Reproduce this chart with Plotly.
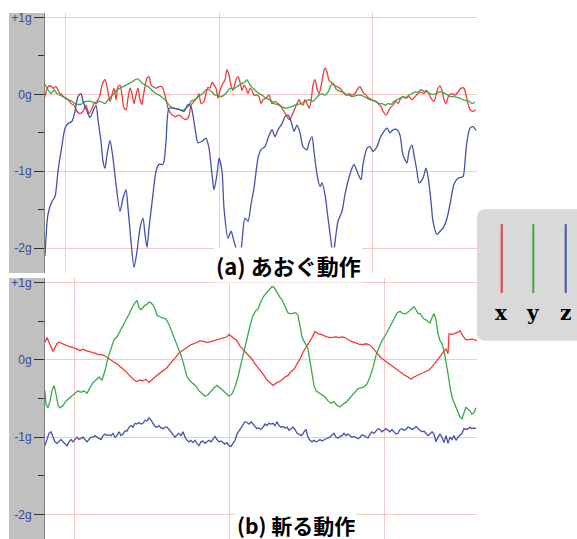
import plotly.graph_objects as go

W, H = 577, 539

# ---------------- data (time in samples, acceleration in g) ----------------
# (a) あおぐ動作
a_x_t = [45,48,51,53,56,59,62,65,68,71,
         74,77,80,83,86,89,92,94,97,100,
         102,105,107,110,112,114,116,118,120,122,
         124,126,128,130,132,134,136,138,140,142,
         143,145,147,149,151,153,156,159,162,165,
         168,171,175,179,183,186,189,191,194,197,
         199,201,204,206,208,210,212,214,216,218,
         220,222,225,227,229,231,233,236,238,240,
         242,244,246,248,250,252,254,257,259,261,
         263,266,269,272,275,278,280,283,286,288,
         290,292,295,297,299,301,303,305,307,309,
         311,313,315,317,319,321,323,325,327,329,
         331,334,337,340,343,346,349,352,355,358,
         360,362,364,366,369,372,375,378,381,383,
         386,388,390,393,396,398,400,403,406,409,
         412,415,418,421,424,426,429,431,434,436,
         438,440,442,444,446,449,452,455,458,461,
         464,466,468,470,473,476]
a_x_g = [-0.03,0.10,0.11,0.08,0.10,0.03,-0.01,-0.05,-0.07,-0.12,
         -0.14,-0.22,-0.25,-0.22,-0.14,-0.25,-0.18,-0.12,-0.09,-0.01,
         0.12,0.19,0.10,-0.09,-0.01,0.08,-0.07,0.10,0.12,-0.01,
         -0.18,-0.20,-0.05,0.08,0.01,-0.12,-0.01,0.08,-0.07,-0.13,
         -0.05,0.10,0.21,0.23,0.12,0.10,0.08,0.10,0.10,-0.01,
         -0.18,-0.25,-0.29,-0.27,-0.31,-0.33,-0.28,-0.14,-0.09,-0.05,
         0.01,-0.12,-0.09,0.01,0.09,0.08,0.16,0.12,0.08,-0.05,
         0.05,0.12,0.19,0.32,0.25,0.12,0.05,0.19,0.23,0.16,
         0.05,0.12,0.08,0.01,0.08,0.05,-0.01,-0.01,-0.03,-0.12,
         -0.07,-0.05,-0.01,-0.12,-0.09,-0.12,-0.14,-0.20,-0.27,-0.31,
         -0.33,-0.27,-0.18,-0.12,-0.07,-0.12,-0.14,-0.07,-0.12,-0.18,
         -0.09,0.12,0.19,0.08,0.01,0.10,0.25,0.34,0.29,0.18,
         0.16,0.12,0.10,0.08,0.03,-0.01,0.01,-0.01,0.01,0.08,
         0.10,0.05,0.01,-0.01,-0.05,-0.07,-0.09,-0.12,-0.16,-0.22,
         -0.27,-0.23,-0.18,-0.14,-0.09,-0.12,-0.07,-0.03,-0.05,-0.03,
         -0.07,-0.03,0.01,0.03,0.01,0.05,0.01,-0.05,-0.09,-0.01,
         0.08,0.11,0.05,-0.07,-0.12,-0.01,0.01,-0.01,0.03,0.08,
         0.08,-0.01,-0.12,-0.20,-0.22,-0.20]

a_y_t = [45,48,51,54,57,60,63,66,69,72,
         75,78,81,84,87,90,93,96,99,102,
         105,108,111,114,117,120,123,126,129,132,
         135,138,141,144,147,150,153,156,159,162,
         165,168,171,174,177,180,183,186,189,191,
         194,197,200,203,206,209,212,215,218,221,
         224,227,230,233,236,239,242,245,247,250,
         253,256,259,262,265,268,271,274,277,280,
         283,286,289,292,295,298,301,304,307,310,
         313,316,319,322,325,328,331,333,336,340,
         343,346,349,352,355,358,361,364,367,370,
         373,376,379,382,385,388,391,394,397,400,
         403,406,409,412,415,418,421,424,427,430,
         433,436,439,442,445,448,451,454,457,460,
         463,466,469,472,475]
a_y_g = [0.13,0.06,0.01,0.06,0.01,-0.01,-0.03,-0.05,-0.07,-0.09,
         -0.12,-0.13,-0.13,-0.10,-0.09,-0.09,-0.10,-0.12,-0.09,-0.10,
         -0.12,-0.07,-0.03,0.01,0.06,0.08,0.10,0.12,0.14,0.16,
         0.19,0.20,0.16,0.13,0.11,0.08,0.04,0.01,-0.01,-0.04,
         -0.07,-0.12,-0.16,-0.18,-0.19,-0.20,-0.21,-0.18,-0.14,-0.09,
         -0.07,-0.05,-0.01,0.01,0.06,0.06,0.03,-0.01,-0.01,-0.03,
         -0.01,0.03,0.08,0.07,0.09,0.12,0.14,0.16,0.19,0.12,
         0.08,0.04,0.01,-0.01,-0.04,-0.06,-0.08,-0.12,-0.13,-0.15,
         -0.17,-0.18,-0.17,-0.16,-0.14,-0.13,-0.12,-0.10,-0.08,-0.07,
         -0.09,-0.05,-0.01,0.01,-0.01,0.03,0.12,0.15,0.07,0.04,
         0.03,0.00,-0.01,-0.03,-0.02,-0.01,-0.01,-0.03,-0.05,-0.07,
         -0.08,-0.09,-0.12,-0.12,-0.14,-0.12,-0.13,-0.09,-0.07,-0.05,
         -0.03,-0.04,-0.01,0.01,0.03,0.03,0.06,0.04,0.03,0.01,
         0.00,0.01,0.03,0.03,0.01,-0.01,-0.03,-0.03,-0.04,-0.05,
         -0.07,-0.08,-0.09,-0.12,-0.10]

a_z_t = [45,48,52,55,58,62,65,68,72,75,
         78,81,83,87,90,93,96,98,101,103,
         105,107,110,113,116,120,123,126,128,131,
         134,137,140,143,145,147,149,153,156,159,
         163,166,169,173,177,180,184,188,191,195,
         198,202,206,209,212,214,217,219,222,224,
         228,231,234,238,240,242,245,248,251,254,
         258,261,265,268,272,275,278,282,285,288,
         291,294,297,300,303,307,309,312,314,317,
         320,322,325,328,331,333,336,338,342,345,
         348,352,354,357,361,363,367,370,373,377,
         380,383,387,390,393,397,400,403,407,409,
         412,414,417,419,423,426,428,431,433,437,
         440,443,447,450,454,458,463,465,467,470,
         473,476]
a_z_g = [-2.10,-1.56,-1.39,-1.33,-1.00,-0.66,-0.44,-0.38,-0.35,-0.22,
         -0.03,0.01,-0.09,-0.22,-0.30,-0.22,-0.14,-0.33,-0.61,-0.87,
         -0.96,-0.79,-0.60,-0.83,-1.17,-1.52,-1.35,-1.24,-1.48,-1.91,
         -2.25,-2.04,-1.74,-1.61,-1.82,-1.99,-1.74,-1.30,-1.00,-0.91,
         -0.91,-0.61,-0.18,-0.18,-0.19,-0.20,-0.22,-0.13,-0.16,-0.44,
         -0.63,-0.61,-0.57,-0.70,-1.04,-1.24,-1.04,-0.83,-1.00,-1.48,
         -1.87,-1.78,-1.91,-2.08,-2.12,-1.91,-1.61,-1.65,-1.43,-1.22,
         -0.83,-0.72,-0.68,-0.57,-0.46,-0.55,-0.46,-0.38,-0.29,-0.27,
         -0.35,-0.48,-0.40,-0.50,-0.68,-0.72,-0.63,-0.55,-0.74,-1.04,
         -1.20,-1.15,-1.30,-1.61,-1.91,-2.10,-1.82,-1.65,-1.52,-1.30,
         -1.13,-0.96,-0.91,-1.00,-1.11,-0.91,-0.70,-0.68,-0.74,-0.68,
         -0.57,-0.50,-0.44,-0.50,-0.46,-0.46,-0.53,-0.79,-0.89,-0.74,
         -0.66,-0.79,-1.00,-1.15,-1.09,-0.96,-1.07,-1.39,-1.65,-1.82,
         -1.78,-1.74,-1.61,-1.43,-1.17,-1.09,-1.07,-0.87,-0.61,-0.44,
         -0.42,-0.47]

# (b) 斬る動作
b_x_t = [45,47,49,51,53,55,57,59,62,65,
         68,71,74,77,80,83,86,89,92,95,
         98,101,104,107,110,113,116,119,122,125,
         128,131,134,137,140,143,146,149,152,155,
         158,161,164,167,170,173,176,179,182,185,
         188,191,194,197,200,203,206,209,212,215,
         218,221,224,227,229,231,234,237,240,243,
         246,249,252,255,258,261,264,267,270,273,
         276,279,282,285,288,291,294,297,300,303,
         306,309,312,315,318,321,324,327,330,333,
         336,339,342,345,348,351,354,357,360,363,
         366,369,372,375,378,381,384,387,390,393,
         396,399,402,405,408,411,414,417,420,423,
         426,429,432,435,438,441,444,446,448,449,
         452,455,458,460,463,466,469,472,475,477]
b_x_g = [0.23,0.29,0.23,0.16,0.11,0.16,0.21,0.23,0.21,0.19,
         0.18,0.17,0.16,0.14,0.12,0.14,0.12,0.11,0.10,0.09,
         0.07,0.07,0.06,0.03,0.00,-0.02,-0.04,-0.07,-0.10,-0.14,
         -0.18,-0.22,-0.26,-0.28,-0.26,-0.27,-0.25,-0.29,-0.25,-0.22,
         -0.19,-0.16,-0.13,-0.10,-0.05,-0.01,0.04,0.09,0.12,0.14,
         0.17,0.20,0.21,0.23,0.25,0.24,0.23,0.23,0.24,0.25,
         0.26,0.27,0.29,0.30,0.33,0.31,0.27,0.25,0.18,0.14,
         0.10,0.06,0.01,-0.05,-0.10,-0.14,-0.20,-0.26,-0.29,-0.33,
         -0.30,-0.28,-0.26,-0.22,-0.20,-0.15,-0.12,-0.05,0.01,0.10,
         0.16,0.23,0.29,0.37,0.34,0.33,0.31,0.30,0.29,0.30,
         0.30,0.29,0.30,0.29,0.26,0.24,0.23,0.21,0.20,0.20,
         0.21,0.20,0.17,0.12,0.07,0.03,0.00,-0.03,-0.06,-0.09,
         -0.12,-0.15,-0.18,-0.20,-0.22,-0.25,-0.22,-0.20,-0.19,-0.17,
         -0.15,-0.13,-0.09,-0.04,0.00,0.06,0.12,0.14,0.08,0.34,
         0.33,0.34,0.36,0.38,0.31,0.26,0.27,0.27,0.26,0.25]

b_y_t = [45,46,48,50,52,54,56,58,60,63,
         66,69,72,75,78,81,84,87,90,93,
         96,99,102,105,108,111,114,117,120,123,
         126,129,132,135,137,139,141,143,145,147,
         149,151,153,155,157,160,163,166,169,172,
         175,178,181,184,187,190,193,196,199,202,
         205,208,211,214,217,220,223,226,229,232,
         235,238,241,244,247,250,253,256,258,261,
         264,267,270,272,274,276,278,280,282,284,
         286,288,290,292,294,296,298,300,302,304,
         306,308,310,312,314,316,319,322,325,328,
         331,334,337,340,343,346,349,352,355,358,
         361,364,367,370,373,376,379,382,385,388,
         391,394,397,400,403,406,409,412,414,416,
         418,420,422,424,426,428,430,432,434,436,
         438,440,442,444,446,448,450,452,454,456,
         458,460,462,464,466,468,470,472,474,476]
b_y_g = [-0.40,-0.57,-0.62,-0.53,-0.40,-0.33,-0.44,-0.58,-0.62,-0.59,
         -0.53,-0.50,-0.46,-0.44,-0.40,-0.42,-0.40,-0.43,-0.35,-0.29,
         -0.26,-0.22,-0.26,-0.14,0.03,0.16,0.26,0.30,0.38,0.44,
         0.52,0.59,0.68,0.74,0.77,0.68,0.65,0.68,0.71,0.72,
         0.75,0.74,0.71,0.66,0.58,0.56,0.55,0.53,0.46,0.36,
         0.25,0.14,0.06,-0.07,-0.22,-0.27,-0.30,-0.34,-0.40,-0.44,
         -0.47,-0.45,-0.40,-0.36,-0.33,-0.36,-0.40,-0.43,-0.47,-0.44,
         -0.35,-0.22,-0.05,0.12,0.29,0.44,0.58,0.64,0.66,0.76,
         0.83,0.87,0.92,0.95,0.94,0.89,0.85,0.81,0.78,0.73,
         0.68,0.61,0.60,0.60,0.61,0.61,0.58,0.45,0.30,0.24,
         0.20,0.14,0.00,-0.18,-0.33,-0.40,-0.43,-0.46,-0.48,-0.53,
         -0.56,-0.54,-0.59,-0.61,-0.57,-0.55,-0.50,-0.46,-0.42,-0.37,
         -0.36,-0.35,-0.31,-0.22,-0.10,0.06,0.16,0.25,0.31,0.38,
         0.44,0.53,0.61,0.63,0.60,0.60,0.63,0.67,0.69,0.65,
         0.60,0.60,0.56,0.53,0.52,0.50,0.48,0.55,0.60,0.52,
         0.34,0.25,0.21,0.12,-0.01,-0.18,-0.35,-0.48,-0.55,-0.61,
         -0.68,-0.74,-0.76,-0.69,-0.61,-0.64,-0.66,-0.70,-0.68,-0.62]

b_z_t = list(range(45, 304, 2)) + list(range(304, 477, 2))
b_z_g = [-1.11,-1.04,-0.95,-0.93,-1.00,-1.06,-1.08,-1.06,-1.03,-1.06,
         -1.09,-1.11,-1.06,-1.03,-1.06,-1.03,-1.00,-1.03,-1.02,-1.00,
         -1.03,-1.06,-1.03,-1.00,-1.00,-0.98,-1.00,-1.02,-1.03,-0.98,
         -0.96,-0.98,-0.97,-0.98,-0.95,-1.00,-0.98,-0.93,-0.98,-0.96,
         -0.92,-0.92,-0.87,-0.85,-0.87,-0.82,-0.83,-0.81,-0.83,-0.82,
         -0.78,-0.79,-0.75,-0.78,-0.83,-0.86,-0.87,-0.85,-0.88,-0.89,
         -0.87,-0.87,-0.90,-0.93,-0.97,-1.00,-0.97,-0.95,-0.98,-0.93,
         -1.00,-1.04,-1.06,-1.04,-1.07,-1.04,-1.08,-1.11,-1.06,-1.05,
         -1.08,-1.06,-1.04,-1.06,-1.02,-0.99,-1.03,-1.06,-1.05,-1.07,
         -1.09,-1.07,-1.11,-1.12,-1.08,-1.04,-0.96,-0.92,-0.87,-0.83,
         -0.80,-0.81,-0.83,-0.80,-0.83,
         -0.85,-0.89,-0.88,-0.90,-0.87,-0.83,-0.85,-0.82,-0.83,-0.82,
         -0.85,-0.80,-0.85,-0.87,-0.86,-0.88,-0.87,-0.91,-0.89,-0.87,
         -0.90,-0.95,-0.96,-0.98,-0.96,
         -0.93,-0.90,-1.00,-1.04,-1.06,-1.04,-1.06,-1.05,-1.03,-1.05,
         -1.03,-1.02,-1.01,-1.00,-0.97,-0.95,-1.00,-1.01,-0.99,-0.98,
         -0.95,-0.98,-0.96,-0.98,-1.00,-0.99,-1.01,-1.02,-1.00,-0.97,
         -0.98,-1.00,-1.01,-0.96,-0.93,-0.95,-0.92,-0.89,-0.90,-0.93,
         -0.91,-0.89,-0.91,-0.93,-0.90,-0.93,-0.96,-0.95,-0.90,-0.89,
         -0.91,-0.90,-0.87,-0.88,-0.90,-0.89,-0.86,-0.89,-0.91,-0.93,
         -0.92,-0.95,-0.98,-0.96,-0.93,-0.96,-1.06,-1.00,-0.96,-1.00,
         -1.07,-0.98,-1.08,-1.00,-1.03,-0.98,-1.04,-1.00,-0.97,-0.95,
         -0.89,-0.90,-0.89,-0.87,-0.89,-0.88,-0.89]

tick_vals = [-2, -1, 0, 1]
tick_text = ["-2g", "-1g", "0g", "+1g"]
minor_vals = [-1.5, -0.5, 0.5]
legend_labels = ["x", "y", "z"]
titles = ["(a) あおぐ動作", "(b) 斬る動作"]

# ---------------- styling ----------------
RED, GREEN, BLUE = "#ee3b3b", "#3aaa48", "#4452aa"
GRID = "#f3c9c9"
STRIP = "#c0c0c0"
LABEL = "#3c4a9c"


def px(x):
    return x / W


def py(y):
    return 1 - y / H


fig = go.Figure()
for t, g, c, ax, shp in [(a_x_t, a_x_g, RED, "1", "spline"), (a_y_t, a_y_g, GREEN, "1", "spline"),
                         (a_z_t, a_z_g, BLUE, "1", "spline"),
                         (b_x_t, b_x_g, RED, "2", "linear"), (b_y_t, b_y_g, GREEN, "2", "linear"),
                         (b_z_t, b_z_g, BLUE, "2", "linear")]:
    fig.add_trace(go.Scatter(x=t, y=g, mode="lines",
                             line=dict(color=c, width=1.3, shape=shp, smoothing=0.7),
                             xaxis="x" if ax == "1" else "x2", yaxis="y" if ax == "1" else "y2",
                             showlegend=False, hoverinfo="skip"))

xdom = [px(45), px(477)]


def yax(dom, rng):
    return dict(domain=dom, range=rng, tickvals=tick_vals, ticktext=tick_text,
                ticks="outside", ticklen=10, tickwidth=1, tickcolor="#333",
                tickfont=dict(family="Liberation Sans, Arial", size=12, color=LABEL),
                showgrid=True, gridcolor=GRID, gridwidth=1, zeroline=False,
                showline=True, linecolor="#808080", linewidth=1,
                minor=dict(tickvals=minor_vals, ticks="outside", ticklen=6, tickcolor="#333",
                           showgrid=False),
                fixedrange=True)


def xax(anchor, tick0, dtick):
    return dict(domain=xdom, range=[45, 477], anchor=anchor, showticklabels=False, ticks="",
                showgrid=True, gridcolor=GRID, gridwidth=1, tick0=tick0, dtick=dtick,
                zeroline=False, showline=False, fixedrange=True)


fig.update_layout(
    width=W, height=H, autosize=False,
    margin=dict(l=0, r=0, t=0, b=0),
    paper_bgcolor="white", plot_bgcolor="white",
    xaxis=xax("y", 65.7, 153.3),
    yaxis=yax([py(272), py(11)], [(92.7 - 272) / 77.2, (92.7 - 11) / 77.2]),
    xaxis2=xax("y2", 74, 155),
    yaxis2=yax([py(539), py(277)], [(359.3 - 539) / 77.5, (359.3 - 277) / 77.5]),
)

shapes = []
# gray label strips
for y0, y1 in [(11, 272), (277, 539)]:
    shapes.append(dict(type="rect", xref="paper", yref="paper", x0=px(9), x1=px(45),
                       y0=py(y1), y1=py(y0), fillcolor=STRIP, line=dict(width=0), layer="below"))

# legend box with rounded left corners
L, T, R, B, r = 477, 208, 600, 340, 9
path = (f"M {px(L + r)},{py(T)} L {px(R)},{py(T)} L {px(R)},{py(B)} L {px(L + r)},{py(B)} "
        f"Q {px(L)},{py(B)} {px(L)},{py(B - r)} L {px(L)},{py(T + r)} "
        f"Q {px(L)},{py(T)} {px(L + r)},{py(T)} Z")
shapes.append(dict(type="path", xref="paper", yref="paper", path=path,
                   fillcolor="#d9d9d9", line=dict(width=0), layer="above"))
leg_x = [501.7, 533.3, 565.7]
for lx, c in zip(leg_x, [RED, GREEN, BLUE]):
    shapes.append(dict(type="line", xref="paper", yref="paper", x0=px(lx), x1=px(lx),
                       y0=py(292), y1=py(223), line=dict(color=c, width=2), layer="above"))
fig.update_layout(shapes=shapes)

annots = []
for lx, lab in zip(leg_x, legend_labels):
    annots.append(dict(x=px(lx), y=py(312), xref="paper", yref="paper", text=f"<b>{lab}</b>",
                       showarrow=False, xanchor="center", yanchor="middle",
                       font=dict(family="DejaVu Serif, Liberation Serif, serif", size=20, color="black")))
annots.append(dict(x=px(288.5), y=py(264), xref="paper", yref="paper", text=f"<b>{titles[0]}</b>",
                   showarrow=False, xanchor="center", yanchor="middle", bgcolor="white", borderpad=1,
                   font=dict(family="Noto Sans CJK JP", size=22, color="black")))
annots.append(dict(x=px(296), y=py(525), xref="paper", yref="paper", text=f"<b>{titles[1]}</b>",
                   showarrow=False, xanchor="center", yanchor="middle", bgcolor="white", borderpad=1,
                   font=dict(family="Noto Sans CJK JP", size=21, color="black")))
fig.update_layout(annotations=annots)

fig.write_html("out.html", config={"displayModeBar": False},
               post_script="document.body.style.margin='0';document.body.style.overflow='hidden';")
